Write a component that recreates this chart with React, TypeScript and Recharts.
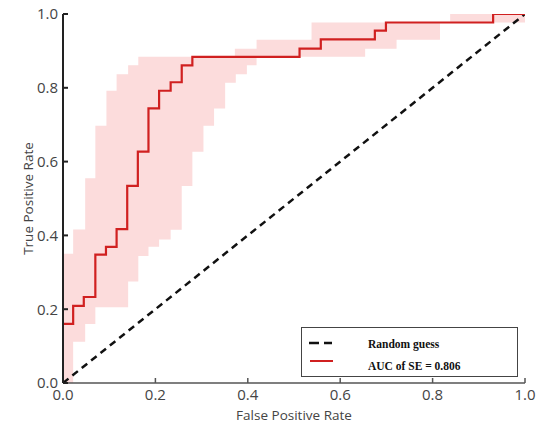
import { ComposedChart, Line, Area, XAxis, YAxis, Legend, Label } from 'recharts';

// ROC curve (step points)
const rocFpr = [0, 0.022, 0.045, 0.07, 0.093, 0.116, 0.139, 0.162, 0.185, 0.208, 0.233, 0.257, 0.28, 0.512, 0.558, 0.675, 0.699, 0.931, 1.0];
const rocTpr = [0.16, 0.209, 0.233, 0.348, 0.369, 0.417, 0.534, 0.627, 0.744, 0.792, 0.815, 0.861, 0.884, 0.906, 0.931, 0.955, 0.977, 1.0, 1.0];

// confidence band, upper edge
const upperFpr = [0, 0.022, 0.048, 0.07, 0.094, 0.116, 0.141, 0.163, 0.372, 0.419, 0.538, 0.838, 1.0];
const upperTpr = [0.35, 0.416, 0.555, 0.697, 0.792, 0.837, 0.861, 0.884, 0.906, 0.93, 0.977, 1.0, 1.0];

// confidence band, lower edge
const lowerFpr = [0, 0.022, 0.048, 0.07, 0.141, 0.163, 0.185, 0.208, 0.233, 0.257, 0.28, 0.304, 0.327, 0.351, 0.374, 0.398, 0.419, 0.654, 0.722, 0.816, 1.0];
const lowerTpr = [0, 0.112, 0.16, 0.205, 0.275, 0.344, 0.369, 0.389, 0.415, 0.534, 0.627, 0.697, 0.744, 0.814, 0.837, 0.861, 0.884, 0.906, 0.93, 0.977, 0.977];

// random guess diagonal
const diagFpr = [0, 1];
const diagTpr = [0, 1];

const ticks = [0, 0.2, 0.4, 0.6, 0.8, 1.0];
const legendLabels = ['Random guess', 'AUC of SE = 0.806'];

function stepAt(xs: number[], ys: number[], x: number) {
  let v = ys[0];
  for (let i = 0; i < xs.length; i++) if (xs[i] <= x) v = ys[i];
  return v;
}

const allX = Array.from(new Set([...rocFpr, ...upperFpr, ...lowerFpr])).sort((a, b) => a - b);
const rows = allX.map((x) => ({
  fpr: x,
  tpr: stepAt(rocFpr, rocTpr, x),
  band: [stepAt(lowerFpr, lowerTpr, x), stepAt(upperFpr, upperTpr, x)],
}));
const diagRows = diagFpr.map((x, i) => ({ fpr: x, diag: diagTpr[i] }));

const tickFont = { fontFamily: '"Open Sans", sans-serif', fontSize: 15, fill: '#444' };
const labelFont = { fontFamily: '"Open Sans", sans-serif', fontSize: 13.5, fill: '#444' };
const fmt = (v: number) => v.toFixed(1);

function LegendBox() {
  const text = { position: 'absolute' as const, left: 66, fontFamily: '"Liberation Serif", serif', fontWeight: 700, fontSize: 11.5, color: '#111', lineHeight: '12px' };
  return (
    <div style={{ position: 'relative', width: 217, height: 50, border: '1.5px solid #444', boxSizing: 'border-box', background: '#fff' }}>
      <svg width={60} height={48} style={{ position: 'absolute', left: 0, top: 0 }}>
        <line x1={7} x2={30} y1={15} y2={15} stroke="#111" strokeWidth={2.5} strokeDasharray="10 5" />
        <line x1={8} x2={31} y1={33} y2={33} stroke="#d02020" strokeWidth={2} />
      </svg>
      <div style={{ ...text, top: 10 }}>{legendLabels[0]}</div>
      <div style={{ ...text, top: 32 }}>{legendLabels[1]}</div>
    </div>
  );
}

export default function App() {
  return (
    <div style={{ position: 'absolute', left: 0, top: 0 }}>
      <ComposedChart width={543} height={423} data={rows} margin={{ top: 14, right: 18, bottom: 0, left: 0 }}>
        <XAxis
          dataKey="fpr"
          type="number"
          domain={[0, 1]}
          ticks={ticks}
          tickFormatter={fmt}
          height={40}
          tickSize={-5}
          tickMargin={11}
          tick={tickFont}
          stroke="#555"
          strokeWidth={1.5}
          allowDataOverflow
        >
          <Label value="False Positive Rate" position="insideBottom" offset={3} style={labelFont} />
        </XAxis>
        <XAxis xAxisId="top" orientation="top" type="number" domain={[0, 1]} ticks={ticks} height={0} tickSize={-5} tick={false} stroke="#555" strokeWidth={1.5} />
        <YAxis
          type="number"
          domain={[0, 1]}
          ticks={ticks}
          tickFormatter={fmt}
          width={63}
          tickSize={-5}
          tickMargin={10}
          tick={tickFont}
          stroke="#222"
          strokeWidth={2}
          allowDataOverflow
        >
          <Label value="True Positive Rate" angle={-90} position="insideLeft" offset={28} style={{ ...labelFont, textAnchor: 'middle' }} />
        </YAxis>
        <YAxis yAxisId="right" orientation="right" type="number" domain={[0, 1]} ticks={ticks} width={0} tickSize={-5} tick={false} stroke="#555" strokeWidth={1.5} />
        <Area dataKey="band" type="stepAfter" fill="#fcdcdc" fillOpacity={1} stroke="none" isAnimationActive={false} />
        <Line data={diagRows} dataKey="diag" type="linear" stroke="#111" strokeWidth={2.5} strokeDasharray="7 5" dot={false} isAnimationActive={false} />
        <Line dataKey="tpr" type="stepAfter" stroke="#d02020" strokeWidth={2.2} dot={false} isAnimationActive={false} />
        <Legend
          layout="horizontal"
          verticalAlign="middle"
          align="center"
          wrapperStyle={{ left: 301, top: 327, width: 217, height: 50 }}
          content={() => <LegendBox />}
        />
      </ComposedChart>
    </div>
  );
}
